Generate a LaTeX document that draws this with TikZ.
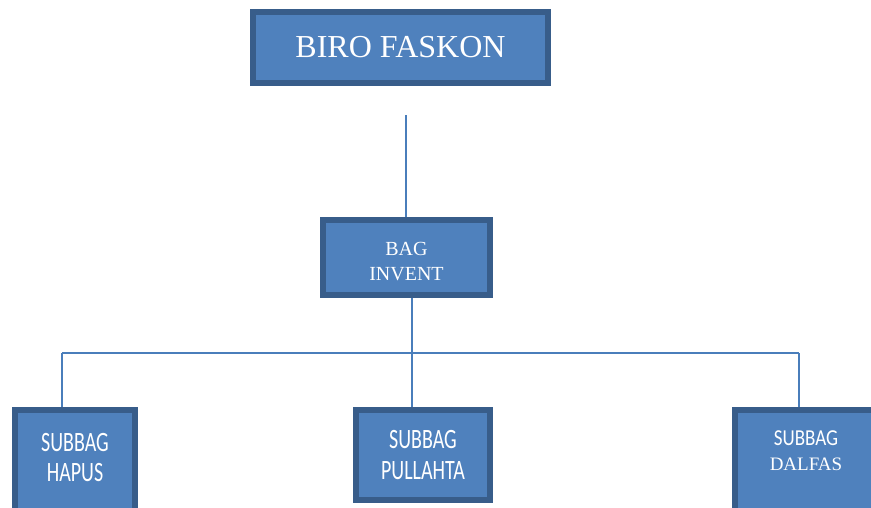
\documentclass[tikz,border=0pt]{standalone}
\usepackage{fontspec}
\usepackage{graphicx}
\setmainfont{Liberation Serif}
\newfontfamily\calibri{Carlito}
\usetikzlibrary{positioning}
\definecolor{boxfill}{HTML}{4F81BD}
\definecolor{boxline}{HTML}{385D8A}
\definecolor{linkline}{HTML}{4A7EBB}
\newcommand{\tall}[2][1.4]{\scalebox{1}[#1]{\calibri #2}}

\begin{document}
\begin{tikzpicture}[x=1pt,y=-1pt,
	unit/.style={draw=boxline,fill=boxfill,line width=6pt,text=white,align=center,inner sep=0pt},
	link/.style={draw=linkline,line width=2pt}]
	\useasboundingbox (0,0) rectangle (871,507);
	\node [unit,minimum width=295pt,minimum height=71pt,font=\fontsize{32}{36}\selectfont] (biro) at (400.5,47.5) {BIRO FASKON};
	\node [unit,minimum width=167pt,minimum height=75pt,font=\fontsize{20}{25}\selectfont] (bag) at (406.5,257.5) {\rule{0pt}{22pt}BAG\\INVENT};
	\node [unit,minimum width=120pt,minimum height=102pt,font=\fontsize{20}{30}\selectfont] (hapus) at (75,461) {\tall{SUBBAG}\\\tall{HAPUS}\rule[-8pt]{0pt}{8pt}};
	\node [unit,minimum width=134pt,minimum height=90pt,font=\fontsize{20}{31}\selectfont] (pullahta) at (423,455) {\tall{SUBBAG}\\\tall{PULLAHTA}};
	\node [unit,minimum width=142pt,minimum height=102pt,font=\fontsize{19}{25}\selectfont] (dalfas) at (806,461) {\tall[1.2]{SUBBAG}\\DALFAS\\[-4pt]};
	\coordinate (top) at (406,115);
	\coordinate (trunk) at (412,353);
	\coordinate (left) at (62,353);
	\coordinate (right) at (799,353);
	\path [link]
	(top) edge (bag.north -| top)
	(bag.south -| trunk) edge (pullahta.north -| trunk)
	(hapus.north -| left) edge (left)
	(left) edge (right)
	(right) edge (dalfas.north -| right);
\end{tikzpicture}
\end{document}
